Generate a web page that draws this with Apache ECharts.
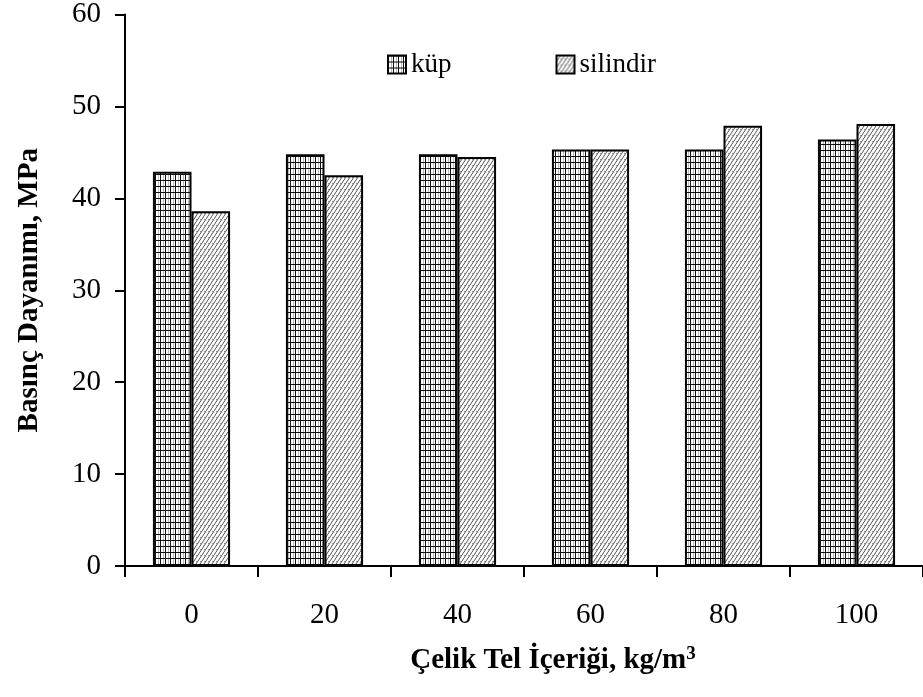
<!DOCTYPE html>
<html>
<head>
<meta charset="utf-8">
<script src="https://cdn.jsdelivr.net/npm/echarts@6/dist/echarts.min.js"></script>
<style>
  html, body { margin: 0; padding: 0; background: #fff; }
  #chart { width: 923px; height: 697px; }
</style>
</head>
<body>
<div id="chart"></div>
<script>
// Steel wire content (kg/m3) and compressive strength (MPa)
const categories = ['0', '20', '40', '60', '80', '100'];
const kupValues = [42.9, 44.8, 44.8, 45.3, 45.3, 46.4];
const silindirValues = [38.6, 42.5, 44.5, 45.3, 47.9, 48.1];
const seriesNames = ['küp', 'silindir'];
const yTicks = { min: 0, max: 60, interval: 10 };

const FONT = 'Liberation Serif';

// Grid hatch for cube specimens
function gridPattern() {
  const c = document.createElement('canvas');
  c.width = 5; c.height = 6;
  const g = c.getContext('2d');
  g.fillStyle = '#fff';
  g.fillRect(0, 0, 5, 6);
  g.fillStyle = '#111';
  g.fillRect(0, 0, 1, 6);
  g.fillRect(0, 0, 5, 1);
  g.fillStyle = '#bbb';
  g.fillRect(3, 1, 1, 5);
  return c;
}

// Diagonal hatch for cylinder specimens
function diagPattern() {
  const c = document.createElement('canvas');
  c.width = 4; c.height = 6;
  const g = c.getContext('2d');
  g.fillStyle = '#fff';
  g.fillRect(0, 0, 4, 6);
  g.strokeStyle = '#555';
  g.lineWidth = 1;
  g.beginPath();
  g.moveTo(-2, 9); g.lineTo(4, 0);
  g.moveTo(2, 9); g.lineTo(8, 0);
  g.moveTo(-6, 9); g.lineTo(0, 0);
  g.stroke();
  g.fillStyle = '#999';
  g.fillRect(0, 3, 1, 1);
  return c;
}

const chart = echarts.init(document.getElementById('chart'), null, { renderer: 'canvas' });

chart.setOption({
  animation: false,
  backgroundColor: '#fff',
  textStyle: { fontFamily: FONT, color: '#000' },
  grid: { left: 125, top: 12, width: 804, height: 554 },
  legend: {
    left: 382, top: 46,
    itemWidth: 18, itemHeight: 18,
    itemGap: 104,
    icon: 'rect',
    textStyle: { fontFamily: FONT, fontSize: 27, color: '#000' },
    data: seriesNames
  },
  xAxis: {
    type: 'category',
    data: categories,
    axisLine: { lineStyle: { color: '#000', width: 2 } },
    axisTick: { show: true, inside: false, length: 11, alignWithLabel: false, lineStyle: { color: '#000', width: 2 } },
    axisLabel: { margin: 35, fontFamily: FONT, fontSize: 29, color: '#000' },
    splitLine: { show: false }
  },
  yAxis: {
    type: 'value',
    min: yTicks.min, max: yTicks.max, interval: yTicks.interval,
    name: 'Basınç Dayanımı, MPa',
    nameLocation: 'middle',
    nameGap: 81,
    nameTextStyle: { fontFamily: FONT, fontSize: 29, fontWeight: 'bold', color: '#000' },
    axisLine: { show: true, lineStyle: { color: '#000', width: 2 } },
    axisTick: { show: true, inside: false, length: 10, lineStyle: { color: '#000', width: 2 } },
    axisLabel: { margin: 24, fontFamily: FONT, fontSize: 29, color: '#000' },
    splitLine: { show: false }
  },
  graphic: [{
    type: 'text',
    x: 553, y: 661,
    style: {
      text: '{m|Çelik Tel İçeriği, kg/m}{s|3}',
      textAlign: 'center',
      textVerticalAlign: 'middle',
      rich: {
        m: { fontFamily: FONT, fontSize: 29, fontWeight: 'bold', fill: '#000' },
        s: { fontFamily: FONT, fontSize: 19, fontWeight: 'bold', fill: '#000', padding: [0, 0, 14, 0] }
      }
    }
  }],
  series: [
    {
      name: seriesNames[0],
      type: 'bar',
      data: kupValues,
      barGap: '0%',
      barCategoryGap: '42%',
      itemStyle: { color: { image: gridPattern(), repeat: 'repeat' }, borderColor: '#000', borderWidth: 2 }
    },
    {
      name: seriesNames[1],
      type: 'bar',
      data: silindirValues,
      barGap: '0%',
      barCategoryGap: '42%',
      itemStyle: { color: { image: diagPattern(), repeat: 'repeat' }, borderColor: '#000', borderWidth: 2 }
    }
  ]
});
</script>
</body>
</html>
